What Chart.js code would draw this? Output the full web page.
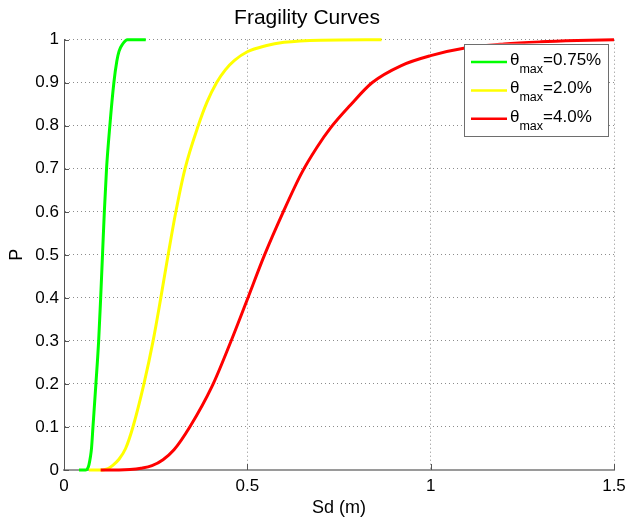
<!DOCTYPE html>
<html>
<head>
<meta charset="utf-8">
<script src="https://cdn.jsdelivr.net/npm/chart.js@4.4.0/dist/chart.umd.min.js"></script>
<style>
html,body{margin:0;padding:0;background:#ffffff;}
#wrap{width:626px;height:517px;}
</style>
</head>
<body>
<div id="wrap"><canvas id="c" width="626" height="517"></canvas></div>
<script>
const FONT = '"Liberation Sans", Arial, Helvetica, sans-serif';

const chartTitle = 'Fragility Curves';
const xAxisTitle = 'Sd (m)';
const yAxisTitle = 'P';

const xTickValues = [0, 0.5, 1, 1.5];
const xTickLabels = ['0', '0.5', '1', '1.5'];
const yTickValues = [0, 0.1, 0.2, 0.3, 0.4, 0.5, 0.6, 0.7, 0.8, 0.9, 1];
const yTickLabels = ['0', '0.1', '0.2', '0.3', '0.4', '0.5', '0.6', '0.7', '0.8', '0.9', '1'];

const legendSymbol = 'θ';
const legendSub = 'max';
const seriesLabels = ['=0.75%', '=2.0%', '=4.0%'];
const seriesColors = ['#00ff00', '#ffff00', '#ff0000'];

// theta_max = 0.75%
const greenSd = [0.041, 0.059, 0.064, 0.068, 0.072, 0.075, 0.079, 0.087, 0.0945, 0.100, 0.105, 0.110, 0.116, 0.125, 0.136, 0.144, 0.150, 0.160, 0.173, 0.223];
const greenP  = [0,     0,     0.003, 0.012, 0.03,  0.05,  0.1,   0.2,   0.3,    0.4,   0.5,   0.6,   0.7,   0.8,   0.9,   0.95,  0.973, 0.99,  1.0,   1.0];

// theta_max = 2.0%
const yellowSd = [0.068, 0.105, 0.120, 0.132, 0.150, 0.168, 0.188, 0.218, 0.243, 0.264, 0.284, 0.305, 0.330, 0.366, 0.390, 0.416, 0.440, 0.465, 0.500, 0.550, 0.600, 0.700, 0.866];
const yellowP  = [0,     0,     0.003, 0.01,  0.025, 0.05,  0.1,   0.2,   0.3,   0.4,   0.5,   0.6,   0.7,   0.8,   0.855, 0.9,   0.93,  0.952, 0.972, 0.986, 0.994, 0.999, 1.0];

// theta_max = 4.0%
const redSd = [0.100, 0.150, 0.180, 0.210, 0.240, 0.270, 0.300, 0.343, 0.404, 0.451, 0.497, 0.547, 0.598, 0.648, 0.690, 0.727, 0.780, 0.840, 0.920, 1.000, 1.090, 1.200, 1.300, 1.400, 1.500];
const redP  = [0,     0,     0.001, 0.004, 0.01,  0.024, 0.047, 0.1,   0.195, 0.29,  0.39,  0.5,   0.6,   0.69,  0.75,  0.795, 0.847, 0.9,   0.94,  0.963, 0.98,  0.99,  0.995, 0.998, 1.0];

const seriesSd = [greenSd, yellowSd, redSd];
const seriesP = [greenP, yellowP, redP];

const datasets = seriesSd.map((sd, i) => ({
  label: legendSymbol + legendSub + seriesLabels[i],
  data: sd.map((x, j) => ({ x: x, y: seriesP[i][j] })),
  borderColor: seriesColors[i],
  backgroundColor: seriesColors[i],
  borderWidth: 3,
  pointRadius: 0,
  fill: false,
  cubicInterpolationMode: 'monotone',
  clip: 4,
  order: 2 - i
}));

const bgPlugin = {
  id: 'bg',
  beforeDraw(chart) {
    const c = chart.ctx;
    c.save();
    c.fillStyle = '#ffffff';
    c.fillRect(0, 0, chart.width, chart.height);
    c.restore();
  }
};

const innerTicksPlugin = {
  id: 'innerTicks',
  afterDatasetsDraw(chart) {
    const c = chart.ctx;
    const a = chart.chartArea;
    const xs = chart.scales.x, ys = chart.scales.y;
    c.save();
    c.lineWidth = 1;
    c.strokeStyle = '#555555';
    ys.ticks.forEach(t => {
      const y = Math.round(ys.getPixelForValue(t.value)) + 0.5;
      c.beginPath(); c.moveTo(a.left, y); c.lineTo(a.left + 5, y); c.stroke();
    });
    xs.ticks.forEach(t => {
      const x = Math.round(xs.getPixelForValue(t.value)) + 0.5;
      c.beginPath(); c.moveTo(x, a.bottom); c.lineTo(x, a.bottom - 6); c.stroke();
    });
    c.restore();
  }
};

const legendPlugin = {
  id: 'customLegend',
  afterDraw(chart) {
    const c = chart.ctx;
    const a = chart.chartArea;
    const w = 144, h = 92;
    const left = a.right - 6 - w;
    const top = a.top + 4;
    c.save();
    c.fillStyle = '#ffffff';
    c.fillRect(left, top, w, h);
    c.strokeStyle = '#6e6e6e';
    c.lineWidth = 1;
    c.strokeRect(Math.round(left) + 0.5, Math.round(top) + 0.5, w, h);
    const rowGap = 28.4;
    chart.data.datasets.forEach((ds, i) => {
      const ly = top + 18.3 + i * rowGap;
      c.strokeStyle = seriesColors[i];
      c.lineWidth = 2.5;
      c.beginPath(); c.moveTo(left + 7, ly); c.lineTo(left + 43, ly); c.stroke();
      c.fillStyle = '#000000';
      c.textBaseline = 'alphabetic';
      c.textAlign = 'left';
      let tx = left + 46;
      c.font = '17px ' + FONT;
      c.fillText(legendSymbol, tx, ly + 3);
      tx += c.measureText(legendSymbol).width;
      c.font = '12.5px ' + FONT;
      c.fillText(legendSub, tx, ly + 11);
      tx += c.measureText(legendSub).width;
      c.font = '17px ' + FONT;
      c.fillText(seriesLabels[i], tx, ly + 3);
    });
    c.restore();
  }
};

new Chart(document.getElementById('c').getContext('2d'), {
  type: 'line',
  data: { datasets: datasets },
  options: {
    responsive: false,
    animation: false,
    devicePixelRatio: 1,
    layout: { padding: { left: 0, right: 12, top: 0, bottom: 0 } },
    plugins: {
      legend: { display: false },
      tooltip: { enabled: false },
      title: {
        display: true,
        text: chartTitle,
        color: '#000000',
        font: { family: FONT, size: 21, weight: 'normal', lineHeight: 1.2 },
        padding: { top: 6, bottom: 8.5 }
      }
    },
    scales: {
      x: {
        type: 'linear',
        min: 0,
        max: 1.5,
        afterBuildTicks: s => { s.ticks = xTickValues.map(v => ({ value: v })); },
        afterFit: s => { s.height = 47; s.paddingLeft = 0; s.paddingRight = 0; },
        grid: { color: '#8c8c8c', lineWidth: 1, drawTicks: false },
        border: { display: true, color: '#9a9a9a', width: 2, dash: [1, 3] },
        ticks: {
          padding: 6, color: '#000000', maxRotation: 0, autoSkip: false,
          font: { family: FONT, size: 17 },
          callback: (v, i) => xTickLabels[i]
        },
        title: {
          display: true, text: xAxisTitle, color: '#000000',
          font: { family: FONT, size: 18, lineHeight: 1.2 },
          padding: { top: 0, bottom: -2 }
        }
      },
      y: {
        type: 'linear',
        min: 0,
        max: 1,
        afterBuildTicks: s => { s.ticks = yTickValues.map(v => ({ value: v })); },
        afterFit: s => { s.width = 64; s.paddingTop = 0; s.paddingBottom = 0; },
        grid: { color: '#8c8c8c', lineWidth: 1, drawTicks: false },
        border: { display: true, color: '#555555', width: 1, dash: [1, 3] },
        ticks: {
          padding: 5, color: '#000000', autoSkip: false,
          font: { family: FONT, size: 17 },
          callback: (v, i) => yTickLabels[i]
        },
        title: {
          display: true, text: yAxisTitle, color: '#000000',
          font: { family: FONT, size: 18, lineHeight: 1.2 },
          padding: { top: 6, bottom: 0 }
        }
      }
    }
  },
  plugins: [bgPlugin, innerTicksPlugin, legendPlugin]
});
</script>
</body>
</html>
